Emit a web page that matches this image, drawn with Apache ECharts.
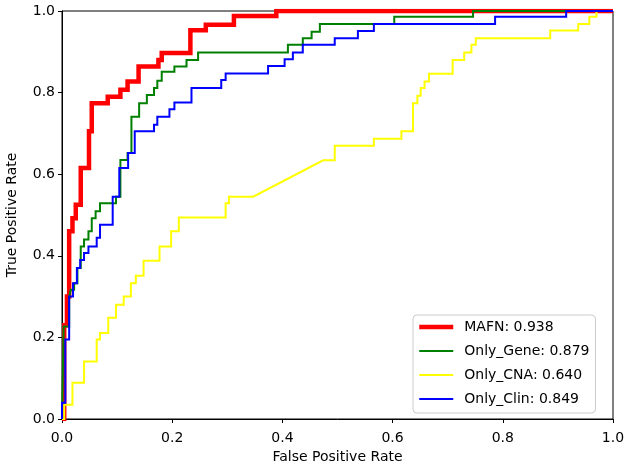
<!DOCTYPE html>
<html>
<head>
<meta charset="utf-8">
<script src="https://cdn.jsdelivr.net/npm/echarts@6/dist/echarts.min.js"></script>
<style>
html,body{margin:0;padding:0;background:#fff;}
#chart{width:630px;height:469px;}
</style>
</head>
<body>
<div id="chart"></div>
<script>
// ---- data ----
const seriesNames = ['MAFN: 0.938', 'Only_Gene: 0.879', 'Only_CNA: 0.640', 'Only_Clin: 0.849'];
const xTickLabels = ['0.0', '0.2', '0.4', '0.6', '0.8', '1.0'];
const yTickLabels = ['0.0', '0.2', '0.4', '0.6', '0.8', '1.0'];

const mafnFpr = [0, 0.004, 0.004, 0.009, 0.009, 0.013, 0.013, 0.019, 0.019, 0.025, 0.025, 0.034, 0.034, 0.049, 0.049, 0.054, 0.054, 0.083, 0.083, 0.106, 0.106, 0.119, 0.119, 0.139, 0.139, 0.175, 0.175, 0.181, 0.181, 0.233, 0.233, 0.261, 0.261, 0.312, 0.312, 0.389, 0.389, 1];
const mafnTpr = [0, 0, 0.23, 0.23, 0.30, 0.30, 0.46, 0.46, 0.492, 0.492, 0.525, 0.525, 0.615, 0.615, 0.705, 0.705, 0.774, 0.774, 0.79, 0.79, 0.807, 0.807, 0.827, 0.827, 0.864, 0.864, 0.88, 0.88, 0.897, 0.897, 0.953, 0.953, 0.966, 0.966, 0.988, 0.988, 1, 1];

const geneFpr = [0, 0.003, 0.003, 0.013, 0.013, 0.016, 0.016, 0.022, 0.022, 0.028, 0.028, 0.034, 0.034, 0.04, 0.04, 0.048, 0.048, 0.054, 0.054, 0.061, 0.061, 0.069, 0.069, 0.098, 0.098, 0.106, 0.106, 0.119, 0.119, 0.126, 0.126, 0.14, 0.14, 0.154, 0.154, 0.167, 0.167, 0.173, 0.173, 0.181, 0.181, 0.204, 0.204, 0.226, 0.226, 0.247, 0.247, 0.41, 0.41, 0.437, 0.437, 0.453, 0.453, 0.468, 0.468, 0.603, 0.603, 0.746, 0.746, 1];
const geneTpr = [0, 0, 0.227, 0.227, 0.30, 0.30, 0.317, 0.317, 0.333, 0.333, 0.37, 0.37, 0.423, 0.423, 0.44, 0.44, 0.46, 0.46, 0.492, 0.492, 0.509, 0.509, 0.529, 0.529, 0.545, 0.545, 0.635, 0.635, 0.652, 0.652, 0.741, 0.741, 0.774, 0.774, 0.794, 0.794, 0.811, 0.811, 0.829, 0.829, 0.851, 0.851, 0.864, 0.864, 0.88, 0.88, 0.898, 0.898, 0.917, 0.917, 0.933, 0.933, 0.949, 0.949, 0.968, 0.968, 0.986, 0.986, 1, 1];

const cnaFpr = [0, 0.004, 0.004, 0.019, 0.019, 0.04, 0.04, 0.063, 0.063, 0.069, 0.069, 0.084, 0.084, 0.098, 0.098, 0.112, 0.112, 0.125, 0.125, 0.134, 0.134, 0.148, 0.148, 0.177, 0.177, 0.198, 0.198, 0.212, 0.212, 0.297, 0.297, 0.303, 0.303, 0.347, 0.474, 0.495, 0.495, 0.566, 0.566, 0.616, 0.616, 0.637, 0.637, 0.645, 0.645, 0.651, 0.651, 0.658, 0.658, 0.666, 0.666, 0.709, 0.709, 0.73, 0.73, 0.743, 0.743, 0.751, 0.751, 0.886, 0.886, 0.937, 0.937, 0.957, 0.957, 0.97, 0.97, 1];
const cnaTpr = [0, 0, 0.035, 0.035, 0.089, 0.089, 0.141, 0.141, 0.195, 0.195, 0.211, 0.211, 0.248, 0.248, 0.28, 0.28, 0.30, 0.30, 0.333, 0.333, 0.351, 0.351, 0.388, 0.388, 0.423, 0.423, 0.46, 0.46, 0.494, 0.494, 0.529, 0.529, 0.545, 0.545, 0.634, 0.634, 0.67, 0.67, 0.687, 0.687, 0.705, 0.705, 0.774, 0.774, 0.792, 0.792, 0.811, 0.811, 0.827, 0.827, 0.846, 0.846, 0.88, 0.88, 0.898, 0.898, 0.917, 0.917, 0.933, 0.933, 0.952, 0.952, 0.968, 0.968, 0.986, 0.986, 1, 1];

const clinFpr = [0, 0, 0.006, 0.006, 0.013, 0.013, 0.02, 0.02, 0.027, 0.027, 0.033, 0.033, 0.04, 0.04, 0.048, 0.048, 0.063, 0.063, 0.069, 0.069, 0.092, 0.092, 0.104, 0.104, 0.12, 0.12, 0.132, 0.132, 0.167, 0.167, 0.173, 0.173, 0.195, 0.195, 0.204, 0.204, 0.235, 0.235, 0.289, 0.289, 0.297, 0.297, 0.374, 0.374, 0.404, 0.404, 0.419, 0.419, 0.437, 0.437, 0.495, 0.495, 0.537, 0.537, 0.566, 0.566, 0.786, 0.786, 0.915, 0.915, 1];
const clinTpr = [0, 0.04, 0.04, 0.195, 0.195, 0.30, 0.30, 0.333, 0.333, 0.37, 0.37, 0.39, 0.39, 0.407, 0.407, 0.423, 0.423, 0.444, 0.444, 0.476, 0.476, 0.545, 0.545, 0.615, 0.615, 0.652, 0.652, 0.705, 0.705, 0.721, 0.721, 0.741, 0.741, 0.759, 0.759, 0.776, 0.776, 0.811, 0.811, 0.831, 0.831, 0.847, 0.847, 0.865, 0.865, 0.882, 0.882, 0.898, 0.898, 0.917, 0.917, 0.933, 0.933, 0.951, 0.951, 0.968, 0.968, 0.986, 0.986, 1, 1];

// ---- build ----
const zip = (xs, ys) => xs.map((x, i) => [x, ys[i]]);
const curves = [
  {name: seriesNames[0], data: zip(mafnFpr, mafnTpr), color: '#ff0000', width: 4.5},
  {name: seriesNames[1], data: zip(geneFpr, geneTpr), color: '#008000', width: 2},
  {name: seriesNames[2], data: zip(cnaFpr, cnaTpr), color: '#ffff00', width: 2},
  {name: seriesNames[3], data: zip(clinFpr, clinTpr), color: '#0000ff', width: 2}
];
const FONT = 'DejaVu Sans';
const chart = echarts.init(document.getElementById('chart'), null, {renderer: 'canvas'});
chart.setOption({
  animation: false,
  backgroundColor: '#ffffff',
  grid: {left: 62, top: 11, right: 17, bottom: 50, containLabel: false, outerBoundsMode: 'none',
         show: true, borderColor: '#000', borderWidth: 1, backgroundColor: 'transparent'},
  xAxis: {
    type: 'value', min: 0, max: 1, interval: 0.2,
    name: 'False Positive Rate', nameLocation: 'middle', nameGap: 31,
    nameTextStyle: {fontFamily: FONT, fontSize: 14, color: '#000'},
    axisLine: {show: true, onZero: false, lineStyle: {color: '#000', width: 1}},
    axisTick: {show: true, inside: false, length: 4, lineStyle: {color: '#000'}},
    axisLabel: {margin: 12, fontFamily: FONT, fontSize: 14, color: '#000',
                formatter: v => xTickLabels[Math.round(v / 0.2)]},
    splitLine: {show: false}
  },
  yAxis: {
    type: 'value', min: 0, max: 1, interval: 0.2,
    name: 'True Positive Rate', nameLocation: 'middle', nameGap: 43, nameRotate: 90,
    nameTextStyle: {fontFamily: FONT, fontSize: 14, color: '#000'},
    axisLine: {show: true, onZero: false, lineStyle: {color: '#000', width: 1}},
    axisTick: {show: true, inside: false, length: 4, lineStyle: {color: '#000'}},
    axisLabel: {margin: 7, fontFamily: FONT, fontSize: 14, color: '#000',
                formatter: v => yTickLabels[Math.round(v / 0.2)]},
    splitLine: {show: false}
  },
  legend: {
    orient: 'vertical', left: 413, top: 315,
    data: curves.map(c => ({name: c.name, lineStyle: {width: c.width, color: c.color}})),
    itemWidth: 34, itemHeight: 14, itemGap: 8,
    padding: [4, 6, 6, 4],
    backgroundColor: 'rgba(255,255,255,0.8)', borderColor: '#cccccc', borderWidth: 1, borderRadius: 4,
    itemStyle: {color: 'rgba(0,0,0,0)', borderColor: 'rgba(0,0,0,0)', borderWidth: 0, opacity: 0},
    lineStyle: {width: 'inherit'},
    textStyle: {fontFamily: FONT, fontSize: 14, color: '#000', lineHeight: 16, padding: [0, 0, 0, 6]}
  },
  series: curves.map(c => ({
    type: 'line', name: c.name, data: c.data,
    showSymbol: false, symbol: 'none', smooth: false,
    lineStyle: {color: c.color, width: c.width, cap: 'butt', join: 'miter'},
    itemStyle: {color: c.color},
    emphasis: {disabled: true}
  }))
});
</script>
</body>
</html>
